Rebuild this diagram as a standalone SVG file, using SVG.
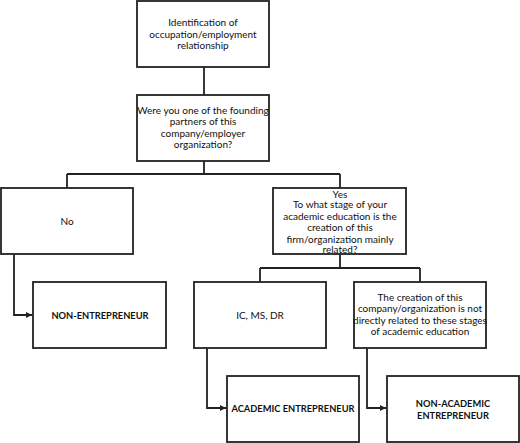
<svg xmlns="http://www.w3.org/2000/svg" width="520" height="443" viewBox="0 0 520 443">
<style>
.box{fill:#fff;stroke:#222;stroke-width:1.8}
.ln{fill:none;stroke:#222;stroke-width:1.8}
text{font-family:Lato,"Open Sans","Liberation Sans",sans-serif;font-size:10px;fill:#111;text-anchor:middle}
.b{font-weight:bold;font-size:9.3px}
</style>
<defs>
<marker id="ah" viewBox="0 0 6 6" refX="6" refY="3" markerWidth="6" markerHeight="6" markerUnits="userSpaceOnUse" orient="auto">
<path d="M0,0 L6,3 L0,6 z" fill="#222"/>
</marker>
</defs>
<g id="connectors">
<path class="ln" d="M204,67 V95"/>
<path class="ln" d="M204,161 V174 M67,174 H340 M67,174 V188 M340,174 V188"/>
<path class="ln" d="M340,254 V268 M260,268 H420 M260,268 V282 M420,268 V282"/>
<path class="ln" d="M14,254 V315 H32" marker-end="url(#ah)"/>
<path class="ln" d="M207,348 V408 H226" marker-end="url(#ah)"/>
<path class="ln" d="M367,348 V408 H386" marker-end="url(#ah)"/>
</g>
<g id="n1">
<rect class="box" x="137" y="1" width="132" height="66"/>
<text x="203" y="26">Identification of</text>
<text x="203" y="37.5">occupation/employment</text>
<text x="203" y="49">relationship</text>
</g>
<g id="n2">
<rect class="box" x="137" y="95" width="132" height="66"/>
<text x="203" y="113.5">Were you one of the founding</text>
<text x="203" y="125">partners of this</text>
<text x="203" y="136.5">company/employer</text>
<text x="203" y="148">organization?</text>
</g>
<g id="n3">
<rect class="box" x="1" y="188" width="132" height="66"/>
<text x="67" y="224.5">No</text>
</g>
<g id="n4">
<rect class="box" x="273" y="188" width="133" height="66"/>
<text x="340" y="197.5">Yes</text>
<text x="340" y="208">To what stage of your</text>
<text x="340" y="219.5">academic education is the</text>
<text x="340" y="231">creation of this</text>
<text x="340" y="242.5">firm/organization mainly</text>
<text x="340" y="253">related?</text>
</g>
<g id="n5">
<rect class="box" x="33" y="282" width="133" height="66"/>
<text class="b" x="100" y="318.5">NON-ENTREPRENEUR</text>
</g>
<g id="n6">
<rect class="box" x="194" y="282" width="132" height="66"/>
<text x="260" y="318.5">IC, MS, DR</text>
</g>
<g id="n7">
<rect class="box" x="354" y="282" width="132" height="66"/>
<text x="420" y="300.5">The creation of this</text>
<text x="420" y="312">company/organization is not</text>
<text x="420" y="323.5">directly related to these stages</text>
<text x="420" y="335">of academic education</text>
</g>
<g id="n8">
<rect class="box" x="227" y="376" width="132" height="66"/>
<text class="b" x="293" y="411.5">ACADEMIC ENTREPRENEUR</text>
</g>
<g id="n9">
<rect class="box" x="387" y="376" width="132" height="66"/>
<text class="b" x="453" y="406.5">NON-ACADEMIC</text>
<text class="b" x="453" y="418.5">ENTREPRENEUR</text>
</g>
</svg>
